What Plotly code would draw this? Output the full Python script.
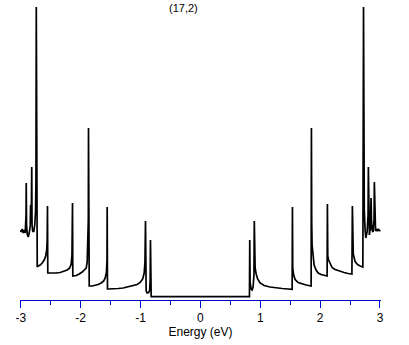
import plotly.graph_objects as go

# Density of states for the (17,2) nanotube
energy_ev = [
    -3.005, -2.992, -2.975, -2.958, -2.942, -2.925, -2.911, -2.908, -2.903, -2.891,
    -2.875, -2.858, -2.841, -2.835, -2.828, -2.821, -2.816, -2.811, -2.800, -2.783,
    -2.766, -2.753, -2.746, -2.740, -2.735,
    -2.724, -2.708, -2.674, -2.641, -2.608, -2.583, -2.566, -2.558, -2.553, -2.548,
    -2.541, -2.474, -2.407, -2.341, -2.274, -2.224, -2.182, -2.157, -2.144, -2.135, -2.130,
    -2.123, -2.073, -2.023, -1.973, -1.923, -1.906, -1.890, -1.878, -1.871, -1.868, -1.863,
    -1.856, -1.806, -1.756, -1.706, -1.656, -1.614, -1.589, -1.568, -1.559, -1.556, -1.551,
    -1.539, -1.456, -1.372, -1.289, -1.205, -1.122, -1.055, -1.005, -0.963, -0.938, -0.925,
    -0.916, -0.911,
    -0.905, -0.888, -0.863, -0.846, -0.838, -0.833, -0.828,
    -0.821, 0.0,
    0.820, 0.825, 0.831, 0.848, 0.865, 0.881, 0.895, 0.901,
    0.906, 0.915, 0.932, 0.957, 0.998, 1.065, 1.165, 1.265, 1.366, 1.466, 1.533, 1.538,
    1.543, 1.558, 1.583, 1.633, 1.699, 1.766, 1.850, 1.855,
    1.860, 1.866, 1.883, 1.900, 1.933, 1.967, 2.017, 2.067, 2.117, 2.122,
    2.128, 2.142, 2.167, 2.200, 2.250, 2.317, 2.401, 2.467, 2.531, 2.539,
    2.544, 2.554, 2.584, 2.626, 2.668, 2.714, 2.725,
    2.730, 2.738, 2.751, 2.763, 2.785, 2.801, 2.806, 2.813, 2.823, 2.840, 2.851, 2.858,
    2.868, 2.885, 2.901, 2.906, 2.913, 2.926, 2.943, 2.960, 2.977, 2.993, 3.002,
]
dos = [
    7.0, 6.8, 7.1, 6.7, 7.0, 6.7, 8.5, 11.7, 7.5, 6.6,
    6.3, 6.7, 7.4, 9.5, 7.8, 10.0, 13.3, 7.5, 6.9, 6.8,
    7.5, 8.8, 11.5, 29.3, 3.4,
    3.3, 3.4, 3.5, 3.7, 4.0, 4.4, 5.0, 6.0, 9.4, 2.7,
    2.7, 2.65, 2.7, 2.75, 2.85, 3.0, 3.2, 3.6, 4.5, 9.7, 2.4,
    2.4, 2.45, 2.6, 2.8, 3.1, 3.2, 3.8, 5.5, 8.0, 17.2, 1.4,
    1.4, 1.4, 1.45, 1.55, 1.7, 1.9, 2.2, 2.8, 4.0, 9.3, 1.1,
    1.1, 1.1, 1.15, 1.2, 1.3, 1.4, 1.55, 1.75, 2.1, 2.7, 3.8,
    7.9, 1.0,
    0.9, 0.7, 0.75, 1.0, 2.0, 6.0, 0.33,
    0.33, 0.33,
    0.33, 6.0, 1.8, 1.1, 1.0, 1.3, 2.5, 7.9,
    3.8, 3.2, 2.6, 2.1, 1.7, 1.45, 1.3, 1.2, 1.15, 1.1, 1.07, 9.3,
    3.2, 2.5, 2.05, 1.75, 1.6, 1.5, 1.4, 17.2,
    7.8, 5.5, 4.2, 3.5, 3.0, 2.7, 2.55, 2.45, 2.4, 9.6,
    4.4, 4.0, 3.6, 3.25, 3.05, 2.9, 2.75, 2.65, 2.6, 9.4,
    6.0, 4.6, 3.85, 3.55, 3.4, 3.3, 29.3,
    11.5, 9.0, 7.0, 6.2, 6.8, 8.5, 13.3, 7.5, 6.5, 7.2, 10.2, 8.0,
    7.0, 6.8, 8.0, 11.8, 7.5, 6.9, 7.1, 6.9, 7.1, 6.9, 7.0,
]
tick_values = [-3, -2, -1, 0, 1, 2, 3]
tick_labels = ["-3", "-2", "-1", "0", "1", "2", "3"]
title_text = "(17,2)"
x_label = "Energy (eV)"

axis_blue = "#0000CC"
font_family = "Liberation Sans, DejaVu Sans, sans-serif"

fig = go.Figure()
fig.add_trace(go.Scatter(
    x=energy_ev, y=dos, mode="lines",
    line=dict(color="black", width=1.7),
    hoverinfo="skip", showlegend=False,
))

fig.update_layout(
    width=409, height=345,
    margin=dict(l=20, r=28, t=0, b=45),
    paper_bgcolor="white", plot_bgcolor="white",
    font=dict(family=font_family, size=12, color="black"),
    xaxis=dict(
        range=[-3.012, 3.017],
        showgrid=False, zeroline=False,
        showline=True, linecolor=axis_blue, linewidth=1,
        ticks="outside", ticklen=7, tickwidth=1, tickcolor=axis_blue,
        tickvals=tick_values, ticktext=tick_labels,
        tickfont=dict(size=12, color="black"),
        minor=dict(dtick=0.5, tick0=-3, ticks="outside", ticklen=4,
                   tickwidth=1, tickcolor=axis_blue, showgrid=False),
        title=dict(text=x_label, font=dict(size=12), standoff=2),
    ),
    yaxis=dict(range=[0, 30], visible=False),
    annotations=[dict(
        text=title_text, xref="paper", yref="paper",
        x=0.454, y=1.0, xanchor="center", yanchor="top",
        showarrow=False, font=dict(size=11),
    )],
)

fig.write_html("out.html", config={"displayModeBar": False},
               post_script="document.body.style.margin='0';")
